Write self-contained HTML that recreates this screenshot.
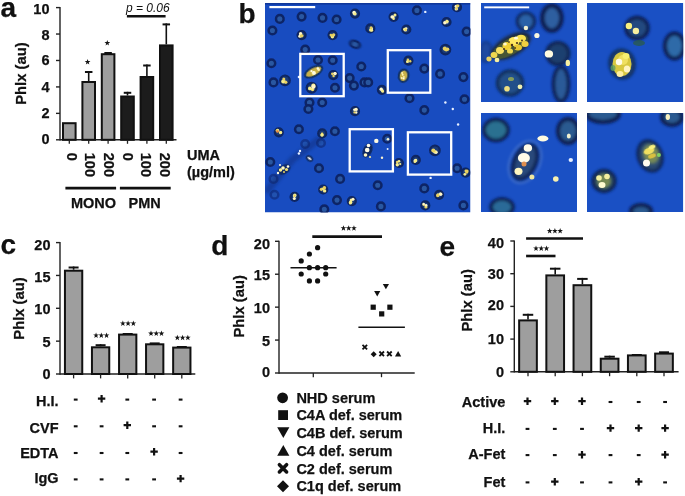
<!DOCTYPE html><html><head><meta charset="utf-8"><style>html,body{margin:0;padding:0;background:#fff;width:685px;height:496px;overflow:hidden}svg{display:block;will-change:transform}text{font-family:"Liberation Sans",sans-serif;fill:#111;stroke:#111;stroke-width:0.25px}</style></head><body>
<svg width="685" height="496" viewBox="0 0 685 496">
<text x="0.50" y="17.30" font-size="28" font-weight="bold" text-anchor="start" >a</text>
<line x1="60.00" y1="7.10" x2="60.00" y2="140.50" stroke="#222" stroke-width="1.4"/>
<line x1="56.00" y1="139.80" x2="60.00" y2="139.80" stroke="#222" stroke-width="1.4"/>
<text x="49.50" y="143.90" font-size="14.5" font-weight="bold" text-anchor="end" >0</text>
<line x1="56.00" y1="113.36" x2="60.00" y2="113.36" stroke="#222" stroke-width="1.4"/>
<text x="49.50" y="117.90" font-size="14.5" font-weight="bold" text-anchor="end" >2</text>
<line x1="56.00" y1="86.92" x2="60.00" y2="86.92" stroke="#222" stroke-width="1.4"/>
<text x="49.50" y="91.80" font-size="14.5" font-weight="bold" text-anchor="end" >4</text>
<line x1="56.00" y1="60.48" x2="60.00" y2="60.48" stroke="#222" stroke-width="1.4"/>
<text x="49.50" y="65.40" font-size="14.5" font-weight="bold" text-anchor="end" >6</text>
<line x1="56.00" y1="34.04" x2="60.00" y2="34.04" stroke="#222" stroke-width="1.4"/>
<text x="49.50" y="40.40" font-size="14.5" font-weight="bold" text-anchor="end" >8</text>
<line x1="56.00" y1="7.60" x2="60.00" y2="7.60" stroke="#222" stroke-width="1.4"/>
<text x="49.50" y="13.85" font-size="14.5" font-weight="bold" text-anchor="end" >10</text>
<text x="0" y="0" font-size="14.8" font-weight="bold" text-anchor="middle" transform="translate(25.60,73.60) rotate(-90)">Phlx (au)</text>
<line x1="60.00" y1="139.80" x2="176.50" y2="139.80" stroke="#222" stroke-width="1.6"/>
<rect x="63.00" y="123.20" width="12.60" height="16.60" fill="#9e9e9e" stroke="#111" stroke-width="2.0"/>
<line x1="69.30" y1="139.80" x2="69.30" y2="143.80" stroke="#222" stroke-width="1.3"/>
<line x1="88.70" y1="81.00" x2="88.70" y2="71.00" stroke="#111" stroke-width="1.6"/>
<line x1="84.95" y1="72.00" x2="92.45" y2="72.00" stroke="#111" stroke-width="2.0"/>
<rect x="82.40" y="82.00" width="12.60" height="57.80" fill="#9e9e9e" stroke="#111" stroke-width="2.0"/>
<line x1="88.70" y1="139.80" x2="88.70" y2="143.80" stroke="#222" stroke-width="1.3"/>
<line x1="108.10" y1="53.20" x2="108.10" y2="52.00" stroke="#111" stroke-width="1.6"/>
<line x1="104.35" y1="53.00" x2="111.85" y2="53.00" stroke="#111" stroke-width="2.0"/>
<rect x="101.80" y="54.20" width="12.60" height="85.60" fill="#9e9e9e" stroke="#111" stroke-width="2.0"/>
<line x1="108.10" y1="139.80" x2="108.10" y2="143.80" stroke="#222" stroke-width="1.3"/>
<line x1="127.50" y1="95.50" x2="127.50" y2="91.80" stroke="#111" stroke-width="1.6"/>
<line x1="123.75" y1="92.80" x2="131.25" y2="92.80" stroke="#111" stroke-width="2.0"/>
<rect x="121.20" y="96.50" width="12.60" height="43.30" fill="#1c1c1c" stroke="#111" stroke-width="2.0"/>
<line x1="127.50" y1="139.80" x2="127.50" y2="143.80" stroke="#222" stroke-width="1.3"/>
<line x1="146.90" y1="76.00" x2="146.90" y2="64.50" stroke="#111" stroke-width="1.6"/>
<line x1="143.15" y1="65.50" x2="150.65" y2="65.50" stroke="#111" stroke-width="2.0"/>
<rect x="140.60" y="77.00" width="12.60" height="62.80" fill="#1c1c1c" stroke="#111" stroke-width="2.0"/>
<line x1="146.90" y1="139.80" x2="146.90" y2="143.80" stroke="#222" stroke-width="1.3"/>
<line x1="166.30" y1="44.40" x2="166.30" y2="23.40" stroke="#111" stroke-width="1.6"/>
<line x1="162.55" y1="24.40" x2="170.05" y2="24.40" stroke="#111" stroke-width="2.0"/>
<rect x="160.00" y="45.40" width="12.60" height="94.40" fill="#1c1c1c" stroke="#111" stroke-width="2.0"/>
<line x1="166.30" y1="139.80" x2="166.30" y2="143.80" stroke="#222" stroke-width="1.3"/>
<polygon points="87.60,59.05 88.31,61.08 90.45,61.12 88.74,62.42 89.36,64.48 87.60,63.25 85.84,64.48 86.46,62.42 84.75,61.12 86.89,61.08" fill="#151515"/>
<polygon points="107.30,40.05 108.01,42.08 110.15,42.12 108.44,43.42 109.06,45.48 107.30,44.25 105.54,45.48 106.16,43.42 104.45,42.12 106.59,42.08" fill="#151515"/>
<line x1="126.90" y1="16.30" x2="165.60" y2="16.30" stroke="#111" stroke-width="2.6"/>
<text x="126.00" y="11.50" font-size="12" font-weight="normal" text-anchor="start" font-style="italic" style="stroke-width:0">p = 0.06</text>
<text x="0" y="0" font-size="14.5" font-weight="bold" transform="translate(67.20,152.8) rotate(90)">0</text>
<text x="0" y="0" font-size="14.5" font-weight="bold" transform="translate(85.35,152.8) rotate(90)">100</text>
<text x="0" y="0" font-size="14.5" font-weight="bold" transform="translate(104.45,152.8) rotate(90)">200</text>
<text x="0" y="0" font-size="14.5" font-weight="bold" transform="translate(122.55,152.8) rotate(90)">0</text>
<text x="0" y="0" font-size="14.5" font-weight="bold" transform="translate(141.10,152.8) rotate(90)">100</text>
<text x="0" y="0" font-size="14.5" font-weight="bold" transform="translate(159.80,152.8) rotate(90)">200</text>
<line x1="65.40" y1="188.10" x2="116.10" y2="188.10" stroke="#111" stroke-width="2.6"/>
<line x1="119.90" y1="188.10" x2="170.70" y2="188.10" stroke="#111" stroke-width="2.6"/>
<text x="93.50" y="208.00" font-size="14.5" font-weight="bold" text-anchor="middle" >MONO</text>
<text x="144.70" y="208.00" font-size="14.5" font-weight="bold" text-anchor="middle" >PMN</text>
<text x="187.00" y="160.10" font-size="14.5" font-weight="bold" text-anchor="start" >UMA</text>
<text x="187.00" y="176.60" font-size="14.5" font-weight="bold" text-anchor="start" >(µg/ml)</text>
<text x="238.50" y="23.40" font-size="28" font-weight="bold" text-anchor="start" >b</text>
<defs>
<filter id="bl1" x="-50%" y="-50%" width="200%" height="200%"><feGaussianBlur stdDeviation="0.7"/></filter>
<filter id="bl2" x="-50%" y="-50%" width="200%" height="200%"><feGaussianBlur stdDeviation="1.4"/></filter>
<filter id="bl3" x="-50%" y="-50%" width="200%" height="200%"><feGaussianBlur stdDeviation="2.4"/></filter>
<filter id="bl05" x="-50%" y="-50%" width="200%" height="200%"><feGaussianBlur stdDeviation="0.45"/></filter>
<clipPath id="cm"><rect x="265" y="3" width="205.5" height="209.5"/></clipPath>
<clipPath id="c1"><rect x="481" y="3" width="96" height="99"/></clipPath>
<clipPath id="c2"><rect x="587" y="3" width="96.3" height="99"/></clipPath>
<clipPath id="c3"><rect x="481" y="113" width="96" height="99"/></clipPath>
<clipPath id="c4"><rect x="587" y="113" width="96.3" height="99"/></clipPath>
</defs>
<g clip-path="url(#cm)">
<rect x="265" y="3" width="205.5" height="209.5" fill="#184cc0"/>
<g transform="translate(279.8,18.9) rotate(0) scale(1.0,1.0)" opacity="0.95" filter="url(#bl1)"><circle cx="0" cy="0" r="3.80" fill="#2a58a0" stroke="#0c2262" stroke-width="2.5"/></g>
<g transform="translate(301.6,16.6) rotate(0) scale(1.0,1.0)" opacity="0.95" filter="url(#bl1)"><circle cx="0" cy="0" r="3.80" fill="#2a58a0" stroke="#0c2262" stroke-width="2.5"/></g>
<g transform="translate(322.5,17.9) rotate(0) scale(1.0,1.0)" opacity="0.95" filter="url(#bl1)"><circle cx="0" cy="0" r="3.80" fill="#2a58a0" stroke="#0c2262" stroke-width="2.5"/></g>
<g transform="translate(336.6,19.5) rotate(0) scale(1.0,1.0)" opacity="0.95" filter="url(#bl1)"><circle cx="0" cy="0" r="3.80" fill="#2a58a0" stroke="#0c2262" stroke-width="2.5"/></g>
<g transform="translate(272.4,30.5) rotate(0) scale(1.0,1.0)" opacity="0.95" filter="url(#bl1)"><circle cx="0" cy="0" r="3.80" fill="#2a58a0" stroke="#0c2262" stroke-width="2.5"/></g>
<g transform="translate(305.2,49.6) rotate(0) scale(1.0,1.0)" opacity="0.95" filter="url(#bl1)"><circle cx="0" cy="0" r="3.80" fill="#2a58a0" stroke="#0c2262" stroke-width="2.5"/></g>
<g transform="translate(271.4,63.3) rotate(0) scale(1.0,1.0)" opacity="0.95" filter="url(#bl1)"><circle cx="0" cy="0" r="3.80" fill="#2a58a0" stroke="#0c2262" stroke-width="2.5"/></g>
<g transform="translate(273.5,82.4) rotate(0) scale(1.0,1.0)" opacity="0.95" filter="url(#bl1)"><circle cx="0" cy="0" r="3.80" fill="#2a58a0" stroke="#0c2262" stroke-width="2.5"/></g>
<g transform="translate(332.7,60.2) rotate(0) scale(1.0,1.0)" opacity="0.95" filter="url(#bl1)"><circle cx="0" cy="0" r="3.80" fill="#2a58a0" stroke="#0c2262" stroke-width="2.5"/></g>
<g transform="translate(361.3,66.5) rotate(0) scale(1.0,1.0)" opacity="0.95" filter="url(#bl1)"><circle cx="0" cy="0" r="3.80" fill="#2a58a0" stroke="#0c2262" stroke-width="2.5"/></g>
<g transform="translate(349.7,78.1) rotate(0) scale(1.0,1.0)" opacity="0.95" filter="url(#bl1)"><circle cx="0" cy="0" r="3.80" fill="#2a58a0" stroke="#0c2262" stroke-width="2.5"/></g>
<g transform="translate(353.9,85.6) rotate(0) scale(1.0,1.0)" opacity="0.95" filter="url(#bl1)"><circle cx="0" cy="0" r="3.80" fill="#2a58a0" stroke="#0c2262" stroke-width="2.5"/></g>
<g transform="translate(364.5,82.4) rotate(0) scale(1.0,1.0)" opacity="0.95" filter="url(#bl1)"><circle cx="0" cy="0" r="3.80" fill="#2a58a0" stroke="#0c2262" stroke-width="2.5"/></g>
<g transform="translate(309.5,102.5) rotate(0) scale(1.0,1.0)" opacity="0.95" filter="url(#bl1)"><circle cx="0" cy="0" r="3.80" fill="#2a58a0" stroke="#0c2262" stroke-width="2.5"/></g>
<g transform="translate(322.2,102.5) rotate(0) scale(1.0,1.0)" opacity="0.95" filter="url(#bl1)"><circle cx="0" cy="0" r="3.80" fill="#2a58a0" stroke="#0c2262" stroke-width="2.5"/></g>
<g transform="translate(318.0,60.0) rotate(0) scale(1.0,1.0)" opacity="0.95" filter="url(#bl1)"><circle cx="0" cy="0" r="3.80" fill="#2a58a0" stroke="#0c2262" stroke-width="2.5"/></g>
<g transform="translate(335.0,87.7) rotate(0) scale(1.0,1.0)" opacity="0.95" filter="url(#bl1)"><circle cx="0" cy="0" r="3.80" fill="#2a58a0" stroke="#0c2262" stroke-width="2.5"/></g>
<g transform="translate(416.9,10.4) rotate(0) scale(1.0,1.0)" opacity="0.95" filter="url(#bl1)"><circle cx="0" cy="0" r="3.80" fill="#2a58a0" stroke="#0c2262" stroke-width="2.5"/></g>
<g transform="translate(466.6,31.6) rotate(0) scale(1.0,1.0)" opacity="0.95" filter="url(#bl1)"><circle cx="0" cy="0" r="3.80" fill="#2a58a0" stroke="#0c2262" stroke-width="2.5"/></g>
<g transform="translate(424.3,68.6) rotate(0) scale(1.0,1.0)" opacity="0.95" filter="url(#bl1)"><circle cx="0" cy="0" r="3.80" fill="#2a58a0" stroke="#0c2262" stroke-width="2.5"/></g>
<g transform="translate(440.1,73.9) rotate(0) scale(1.0,1.0)" opacity="0.95" filter="url(#bl1)"><circle cx="0" cy="0" r="3.80" fill="#2a58a0" stroke="#0c2262" stroke-width="2.5"/></g>
<g transform="translate(463.4,77.1) rotate(0) scale(1.0,1.0)" opacity="0.95" filter="url(#bl1)"><circle cx="0" cy="0" r="3.80" fill="#2a58a0" stroke="#0c2262" stroke-width="2.5"/></g>
<g transform="translate(368.2,82.4) rotate(0) scale(1.0,1.0)" opacity="0.95" filter="url(#bl1)"><circle cx="0" cy="0" r="3.80" fill="#2a58a0" stroke="#0c2262" stroke-width="2.5"/></g>
<g transform="translate(409.5,98.3) rotate(0) scale(1.0,1.0)" opacity="0.95" filter="url(#bl1)"><circle cx="0" cy="0" r="3.80" fill="#2a58a0" stroke="#0c2262" stroke-width="2.5"/></g>
<g transform="translate(464.5,99.3) rotate(0) scale(1.0,1.0)" opacity="0.95" filter="url(#bl1)"><circle cx="0" cy="0" r="3.80" fill="#2a58a0" stroke="#0c2262" stroke-width="2.5"/></g>
<g transform="translate(308.4,109.0) rotate(0) scale(1.0,1.0)" opacity="0.95" filter="url(#bl1)"><circle cx="0" cy="0" r="3.80" fill="#2a58a0" stroke="#0c2262" stroke-width="2.5"/></g>
<g transform="translate(298.9,129.2) rotate(0) scale(1.0,1.0)" opacity="0.95" filter="url(#bl1)"><circle cx="0" cy="0" r="3.80" fill="#2a58a0" stroke="#0c2262" stroke-width="2.5"/></g>
<g transform="translate(334.9,131.3) rotate(0) scale(1.0,1.0)" opacity="0.95" filter="url(#bl1)"><circle cx="0" cy="0" r="3.80" fill="#2a58a0" stroke="#0c2262" stroke-width="2.5"/></g>
<g transform="translate(270.3,162.0) rotate(0) scale(1.0,1.0)" opacity="0.95" filter="url(#bl1)"><circle cx="0" cy="0" r="3.80" fill="#2a58a0" stroke="#0c2262" stroke-width="2.5"/></g>
<g transform="translate(319.0,168.3) rotate(0) scale(1.0,1.0)" opacity="0.95" filter="url(#bl1)"><circle cx="0" cy="0" r="3.80" fill="#2a58a0" stroke="#0c2262" stroke-width="2.5"/></g>
<g transform="translate(340.1,178.9) rotate(0) scale(1.0,1.0)" opacity="0.95" filter="url(#bl1)"><circle cx="0" cy="0" r="3.80" fill="#2a58a0" stroke="#0c2262" stroke-width="2.5"/></g>
<g transform="translate(337.0,200.1) rotate(0) scale(1.0,1.0)" opacity="0.95" filter="url(#bl1)"><circle cx="0" cy="0" r="3.80" fill="#2a58a0" stroke="#0c2262" stroke-width="2.5"/></g>
<g transform="translate(324.3,209.2) rotate(0) scale(1.0,1.0)" opacity="0.95" filter="url(#bl1)"><circle cx="0" cy="0" r="3.80" fill="#2a58a0" stroke="#0c2262" stroke-width="2.5"/></g>
<g transform="translate(424.3,110.1) rotate(0) scale(1.0,1.0)" opacity="0.95" filter="url(#bl1)"><circle cx="0" cy="0" r="3.80" fill="#2a58a0" stroke="#0c2262" stroke-width="2.5"/></g>
<g transform="translate(387.2,138.7) rotate(0) scale(1.0,1.0)" opacity="0.95" filter="url(#bl1)"><circle cx="0" cy="0" r="3.80" fill="#2a58a0" stroke="#0c2262" stroke-width="2.5"/></g>
<g transform="translate(457.1,168.3) rotate(0) scale(1.0,1.0)" opacity="0.95" filter="url(#bl1)"><circle cx="0" cy="0" r="3.80" fill="#2a58a0" stroke="#0c2262" stroke-width="2.5"/></g>
<g transform="translate(377.7,185.3) rotate(0) scale(1.0,1.0)" opacity="0.95" filter="url(#bl1)"><circle cx="0" cy="0" r="3.80" fill="#2a58a0" stroke="#0c2262" stroke-width="2.5"/></g>
<g transform="translate(424.3,188.4) rotate(0) scale(1.0,1.0)" opacity="0.95" filter="url(#bl1)"><circle cx="0" cy="0" r="3.80" fill="#2a58a0" stroke="#0c2262" stroke-width="2.5"/></g>
<g transform="translate(380.9,206.4) rotate(0) scale(1.0,1.0)" opacity="0.95" filter="url(#bl1)"><circle cx="0" cy="0" r="3.80" fill="#2a58a0" stroke="#0c2262" stroke-width="2.5"/></g>
<g transform="translate(463.4,205.4) rotate(0) scale(1.0,1.0)" opacity="0.95" filter="url(#bl1)"><circle cx="0" cy="0" r="3.80" fill="#2a58a0" stroke="#0c2262" stroke-width="2.5"/></g>
<g transform="translate(305.2,144.0) rotate(0) scale(1.0,1.0)" opacity="0.5" filter="url(#bl1)"><circle cx="0" cy="0" r="3.80" fill="#2a58a0" stroke="#0c2262" stroke-width="2.5"/></g>
<g transform="translate(321.0,143.0) rotate(0) scale(1.0,1.0)" opacity="0.5" filter="url(#bl1)"><circle cx="0" cy="0" r="3.80" fill="#2a58a0" stroke="#0c2262" stroke-width="2.5"/></g>
<g transform="translate(273.5,178.9) rotate(0) scale(1.0,1.0)" opacity="0.5" filter="url(#bl1)"><circle cx="0" cy="0" r="3.80" fill="#2a58a0" stroke="#0c2262" stroke-width="2.5"/></g>
<g transform="translate(274.5,194.8) rotate(0) scale(1.0,1.0)" opacity="0.5" filter="url(#bl1)"><circle cx="0" cy="0" r="3.80" fill="#2a58a0" stroke="#0c2262" stroke-width="2.5"/></g>
<g transform="translate(355.0,44.3) rotate(20) scale(1.25,0.9)" opacity="0.95" filter="url(#bl1)"><circle cx="0" cy="0" r="3.80" fill="#2a58a0" stroke="#0c2262" stroke-width="2.5"/></g>
<circle cx="355.0" cy="13.6" r="4.0" fill="#1c3a70" stroke="#0c2058" stroke-width="2.2" opacity="0.9" filter="url(#bl1)"/>
<g filter="url(#bl05)"><circle cx="354.0" cy="13.8" r="1.3" fill="#e8d060"/><circle cx="354.9" cy="13.9" r="1.5" fill="#fff6c8"/><circle cx="354.1" cy="12.6" r="1.8" fill="#fff6c8"/><circle cx="355.2" cy="13.8" r="1.4" fill="#f6ec8a"/></g>
<circle cx="301.6" cy="35.1" r="4.0" fill="#1c3a70" stroke="#0c2058" stroke-width="2.2" opacity="0.9" filter="url(#bl1)"/>
<g filter="url(#bl05)"><circle cx="300.6" cy="33.8" r="1.7" fill="#fff6c8"/><circle cx="302.5" cy="35.7" r="1.1" fill="#e8d060"/><circle cx="299.9" cy="36.2" r="1.6" fill="#fff6c8"/><circle cx="301.5" cy="35.9" r="1.7" fill="#e8d060"/></g>
<circle cx="332.6" cy="35.1" r="4.0" fill="#1c3a70" stroke="#0c2058" stroke-width="2.2" opacity="0.9" filter="url(#bl1)"/>
<g filter="url(#bl05)"><circle cx="333.7" cy="34.8" r="1.6" fill="#e8d060"/><circle cx="332.4" cy="36.7" r="1.7" fill="#f6ec8a"/><circle cx="330.8" cy="35.1" r="1.3" fill="#e8d060"/><circle cx="332.4" cy="35.6" r="1.3" fill="#e8d060"/></g>
<circle cx="370.3" cy="28.4" r="4.0" fill="#1c3a70" stroke="#0c2058" stroke-width="2.2" opacity="0.9" filter="url(#bl1)"/>
<g filter="url(#bl05)"><circle cx="371.6" cy="28.7" r="1.5" fill="#fff6c8"/><circle cx="370.6" cy="29.9" r="1.6" fill="#f6ec8a"/><circle cx="371.6" cy="30.3" r="1.5" fill="#f6ec8a"/><circle cx="371.1" cy="27.7" r="1.5" fill="#e8d060"/></g>
<circle cx="333.3" cy="75.2" r="4.0" fill="#1c3a70" stroke="#0c2058" stroke-width="2.2" opacity="0.9" filter="url(#bl1)"/>
<g filter="url(#bl05)"><circle cx="333.6" cy="76.0" r="1.2" fill="#e8d060"/><circle cx="332.4" cy="73.8" r="1.4" fill="#e8d060"/><circle cx="335.2" cy="73.6" r="1.6" fill="#fff6c8"/><circle cx="334.8" cy="73.4" r="1.4" fill="#fff6c8"/></g>
<circle cx="393.6" cy="16.8" r="4.0" fill="#1c3a70" stroke="#0c2058" stroke-width="2.2" opacity="0.9" filter="url(#bl1)"/>
<g filter="url(#bl05)"><circle cx="395.0" cy="15.1" r="1.5" fill="#f6ec8a"/><circle cx="393.1" cy="17.1" r="1.5" fill="#fff6c8"/><circle cx="393.6" cy="18.7" r="1.3" fill="#f6ec8a"/><circle cx="392.1" cy="16.9" r="1.7" fill="#fff6c8"/></g>
<circle cx="457.0" cy="7.2" r="4.0" fill="#1c3a70" stroke="#0c2058" stroke-width="2.2" opacity="0.9" filter="url(#bl1)"/>
<g filter="url(#bl05)"><circle cx="456.2" cy="6.3" r="1.6" fill="#fff6c8"/><circle cx="456.3" cy="8.9" r="1.7" fill="#fff6c8"/><circle cx="456.5" cy="8.6" r="1.4" fill="#e8d060"/><circle cx="457.7" cy="5.7" r="1.7" fill="#e8d060"/></g>
<circle cx="406.3" cy="29.5" r="4.0" fill="#1c3a70" stroke="#0c2058" stroke-width="2.2" opacity="0.9" filter="url(#bl1)"/>
<g filter="url(#bl05)"><circle cx="405.4" cy="30.0" r="1.6" fill="#fff6c8"/><circle cx="406.1" cy="28.6" r="1.3" fill="#fff6c8"/><circle cx="404.5" cy="29.2" r="1.5" fill="#f6ec8a"/><circle cx="405.8" cy="29.8" r="1.2" fill="#e8d060"/></g>
<circle cx="446.5" cy="22.0" r="4.0" fill="#1c3a70" stroke="#0c2058" stroke-width="2.2" opacity="0.9" filter="url(#bl1)"/>
<g filter="url(#bl05)"><circle cx="447.0" cy="21.9" r="1.5" fill="#fff6c8"/><circle cx="446.9" cy="21.2" r="1.4" fill="#e8d060"/><circle cx="444.8" cy="22.7" r="1.7" fill="#fff6c8"/><circle cx="447.0" cy="21.2" r="1.5" fill="#f6ec8a"/></g>
<circle cx="408.4" cy="60.6" r="4.0" fill="#1c3a70" stroke="#0c2058" stroke-width="2.2" opacity="0.9" filter="url(#bl1)"/>
<g filter="url(#bl05)"><circle cx="407.9" cy="59.9" r="1.3" fill="#e8d060"/><circle cx="407.5" cy="61.7" r="1.2" fill="#f6ec8a"/><circle cx="410.2" cy="61.3" r="1.2" fill="#e8d060"/><circle cx="407.4" cy="61.7" r="1.3" fill="#f6ec8a"/></g>
<circle cx="381.9" cy="89.8" r="4.0" fill="#1c3a70" stroke="#0c2058" stroke-width="2.2" opacity="0.9" filter="url(#bl1)"/>
<g filter="url(#bl05)"><circle cx="382.6" cy="90.4" r="1.2" fill="#e8d060"/><circle cx="381.2" cy="89.2" r="1.7" fill="#fff6c8"/><circle cx="383.1" cy="91.5" r="1.1" fill="#e8d060"/><circle cx="382.5" cy="91.3" r="1.4" fill="#f6ec8a"/></g>
<circle cx="355.0" cy="111.2" r="4.0" fill="#1c3a70" stroke="#0c2058" stroke-width="2.2" opacity="0.9" filter="url(#bl1)"/>
<g filter="url(#bl05)"><circle cx="356.1" cy="109.4" r="1.7" fill="#fff6c8"/><circle cx="356.2" cy="112.5" r="1.2" fill="#fff6c8"/><circle cx="354.4" cy="112.4" r="1.1" fill="#e8d060"/><circle cx="354.4" cy="109.8" r="1.3" fill="#fff6c8"/></g>
<circle cx="322.2" cy="133.4" r="4.0" fill="#1c3a70" stroke="#0c2058" stroke-width="2.2" opacity="0.9" filter="url(#bl1)"/>
<g filter="url(#bl05)"><circle cx="322.1" cy="133.9" r="1.3" fill="#e8d060"/><circle cx="321.9" cy="135.0" r="1.2" fill="#f6ec8a"/><circle cx="322.1" cy="134.7" r="1.5" fill="#e8d060"/><circle cx="322.0" cy="135.1" r="1.7" fill="#f6ec8a"/></g>
<circle cx="323.2" cy="189.5" r="4.0" fill="#1c3a70" stroke="#0c2058" stroke-width="2.2" opacity="0.9" filter="url(#bl1)"/>
<g filter="url(#bl05)"><circle cx="321.4" cy="189.3" r="1.6" fill="#e8d060"/><circle cx="323.3" cy="188.7" r="1.3" fill="#f6ec8a"/><circle cx="324.6" cy="190.9" r="1.7" fill="#f6ec8a"/><circle cx="324.4" cy="187.8" r="1.7" fill="#e8d060"/></g>
<circle cx="294.6" cy="196.9" r="4.0" fill="#1c3a70" stroke="#0c2058" stroke-width="2.2" opacity="0.9" filter="url(#bl1)"/>
<g filter="url(#bl05)"><circle cx="294.6" cy="195.8" r="1.7" fill="#fff6c8"/><circle cx="294.9" cy="195.1" r="1.6" fill="#f6ec8a"/><circle cx="294.6" cy="195.9" r="1.1" fill="#e8d060"/><circle cx="294.3" cy="198.6" r="1.5" fill="#fff6c8"/></g>
<circle cx="351.8" cy="201.1" r="4.0" fill="#1c3a70" stroke="#0c2058" stroke-width="2.2" opacity="0.9" filter="url(#bl1)"/>
<g filter="url(#bl05)"><circle cx="350.4" cy="202.9" r="1.5" fill="#f6ec8a"/><circle cx="351.2" cy="200.0" r="1.5" fill="#f6ec8a"/><circle cx="350.6" cy="202.2" r="1.7" fill="#f6ec8a"/><circle cx="353.0" cy="199.2" r="1.5" fill="#fff6c8"/></g>
<circle cx="398.9" cy="163.0" r="4.0" fill="#1c3a70" stroke="#0c2058" stroke-width="2.2" opacity="0.9" filter="url(#bl1)"/>
<g filter="url(#bl05)"><circle cx="397.2" cy="162.1" r="1.3" fill="#e8d060"/><circle cx="399.0" cy="161.3" r="1.3" fill="#f6ec8a"/><circle cx="400.2" cy="164.0" r="1.1" fill="#f6ec8a"/><circle cx="397.3" cy="164.8" r="1.7" fill="#f6ec8a"/></g>
<circle cx="415.8" cy="159.9" r="4.0" fill="#1c3a70" stroke="#0c2058" stroke-width="2.2" opacity="0.9" filter="url(#bl1)"/>
<g filter="url(#bl05)"><circle cx="415.9" cy="159.9" r="1.2" fill="#f6ec8a"/><circle cx="415.2" cy="160.5" r="1.5" fill="#fff6c8"/><circle cx="414.9" cy="161.7" r="1.4" fill="#f6ec8a"/><circle cx="416.0" cy="160.7" r="1.3" fill="#f6ec8a"/></g>
<circle cx="465.6" cy="172.6" r="4.0" fill="#1c3a70" stroke="#0c2058" stroke-width="2.2" opacity="0.9" filter="url(#bl1)"/>
<g filter="url(#bl05)"><circle cx="465.9" cy="170.9" r="1.4" fill="#e8d060"/><circle cx="466.7" cy="172.1" r="1.6" fill="#e8d060"/><circle cx="467.1" cy="170.9" r="1.5" fill="#e8d060"/><circle cx="464.9" cy="174.3" r="1.4" fill="#f6ec8a"/></g>
<circle cx="439.1" cy="194.8" r="4.0" fill="#1c3a70" stroke="#0c2058" stroke-width="2.2" opacity="0.9" filter="url(#bl1)"/>
<g filter="url(#bl05)"><circle cx="438.1" cy="194.9" r="1.6" fill="#f6ec8a"/><circle cx="440.2" cy="193.8" r="1.2" fill="#f6ec8a"/><circle cx="440.7" cy="194.3" r="1.7" fill="#fff6c8"/><circle cx="437.7" cy="195.5" r="1.7" fill="#e8d060"/></g>
<circle cx="425.3" cy="205.4" r="4.0" fill="#1c3a70" stroke="#0c2058" stroke-width="2.2" opacity="0.9" filter="url(#bl1)"/>
<g filter="url(#bl05)"><circle cx="425.9" cy="206.9" r="1.6" fill="#e8d060"/><circle cx="423.8" cy="204.7" r="1.4" fill="#e8d060"/><circle cx="426.1" cy="205.3" r="1.3" fill="#fff6c8"/><circle cx="423.6" cy="203.9" r="1.2" fill="#fff6c8"/></g>
<circle cx="278.8" cy="132.3" r="4.0" fill="#1c3a70" stroke="#0c2058" stroke-width="2.2" opacity="0.9" filter="url(#bl1)"/>
<g filter="url(#bl05)"><circle cx="277.6" cy="130.5" r="1.7" fill="#f6ec8a"/><circle cx="277.0" cy="130.8" r="1.4" fill="#e8d060"/><circle cx="280.5" cy="132.6" r="1.6" fill="#f6ec8a"/><circle cx="280.7" cy="132.5" r="1.4" fill="#f6ec8a"/><circle cx="277.5" cy="131.5" r="1.3" fill="#e08040"/></g>
<circle cx="285.0" cy="80.3" r="4.8" fill="#1c3a70" stroke="#0c2058" stroke-width="2.2" opacity="0.9" filter="url(#bl1)"/>
<g filter="url(#bl05)"><circle cx="283.2" cy="81.4" r="2.0" fill="#f6ec8a"/><circle cx="285.2" cy="82.0" r="1.4" fill="#f6ec8a"/><circle cx="283.8" cy="78.9" r="1.5" fill="#e8d060"/><circle cx="285.9" cy="82.3" r="1.5" fill="#e8d060"/></g>
<circle cx="445.4" cy="49.6" r="4.8" fill="#1c3a70" stroke="#0c2058" stroke-width="2.2" opacity="0.9" filter="url(#bl1)"/>
<g filter="url(#bl05)"><circle cx="444.9" cy="48.9" r="1.6" fill="#f6ec8a"/><circle cx="444.8" cy="48.4" r="2.0" fill="#e8d060"/><circle cx="447.5" cy="49.2" r="1.8" fill="#e8d060"/><circle cx="446.2" cy="49.7" r="1.7" fill="#e8d060"/></g>
<circle cx="434.9" cy="150.3" r="4.8" fill="#1c3a70" stroke="#0c2058" stroke-width="2.2" opacity="0.9" filter="url(#bl1)"/>
<g filter="url(#bl05)"><circle cx="434.5" cy="152.0" r="1.4" fill="#fff6c8"/><circle cx="436.0" cy="152.2" r="1.7" fill="#fff6c8"/><circle cx="435.3" cy="151.9" r="1.4" fill="#f6ec8a"/><circle cx="433.3" cy="150.4" r="2.0" fill="#e8d060"/></g>
<ellipse cx="313.6" cy="71.7" rx="10.5" ry="5.5" fill="#102a50" opacity="0.8" transform="rotate(-28,313.6,71.7)" filter="url(#bl1)"/>
<ellipse cx="313.6" cy="71.7" rx="8.5" ry="3.5" fill="#c8b048" transform="rotate(-28,313.6,71.7)" filter="url(#bl05)"/>
<g filter="url(#bl05)"><circle cx="314.6" cy="72.5" r="1.4" fill="#f0e070"/><circle cx="313.3" cy="73.6" r="1.6" fill="#f0e070"/><circle cx="317.9" cy="68.5" r="1.2" fill="#fffbe0"/><circle cx="311.5" cy="71.2" r="1.1" fill="#fffbe0"/><circle cx="314.1" cy="73.2" r="1.6" fill="#fffbe0"/><circle cx="313.6" cy="72.2" r="1.3" fill="#fffbe0"/><circle cx="318.7" cy="69.7" r="1.2" fill="#fff4b0"/></g>
<circle cx="311.6" cy="87.8" r="4.9" fill="#1c3a70" stroke="#0c2058" stroke-width="2.2" opacity="0.9" filter="url(#bl1)"/>
<g filter="url(#bl05)"><circle cx="312.6" cy="89.5" r="1.7" fill="#e8d060"/><circle cx="313.4" cy="85.7" r="2.1" fill="#f6ec8a"/><circle cx="312.3" cy="89.1" r="1.4" fill="#f6ec8a"/><circle cx="313.3" cy="86.6" r="1.5" fill="#fff6c8"/><circle cx="309.9" cy="88.4" r="1.9" fill="#f6ec8a"/><circle cx="313.5" cy="86.7" r="2.1" fill="#fff6c8"/></g>
<ellipse cx="403.6" cy="75.7" rx="5.8" ry="7.2" fill="#102a50" opacity="0.8" transform="rotate(10,403.6,75.7)" filter="url(#bl1)"/>
<ellipse cx="403.6" cy="75.7" rx="3.8" ry="5.2" fill="#c8b048" transform="rotate(10,403.6,75.7)" filter="url(#bl05)"/>
<g filter="url(#bl05)"><circle cx="402.1" cy="72.9" r="1.0" fill="#fff4b0"/><circle cx="401.7" cy="78.0" r="1.1" fill="#fff4b0"/><circle cx="403.9" cy="76.9" r="0.9" fill="#fff4b0"/><circle cx="402.7" cy="74.8" r="1.0" fill="#fff4b0"/><circle cx="403.6" cy="78.6" r="1.0" fill="#fffbe0"/></g>
<g opacity="0.35" filter="url(#bl2)"><path d="M268,190 L292,160 L318,140" stroke="#0c2262" stroke-width="7" fill="none" stroke-linecap="round"/></g>
<ellipse cx="284" cy="169.5" rx="7" ry="4.5" fill="#0e2450" opacity="0.7" transform="rotate(-30,284,169.5)" filter="url(#bl1)"/>
<circle cx="280.5" cy="170" r="1.7" fill="#f8f090" filter="url(#bl05)"/>
<circle cx="283" cy="168" r="1.8" fill="#fff8c0" filter="url(#bl05)"/>
<circle cx="286.5" cy="169.5" r="1.6" fill="#f0e070" filter="url(#bl05)"/>
<circle cx="288" cy="166.5" r="1.3" fill="#fffbe0" filter="url(#bl05)"/>
<circle cx="278" cy="173" r="1.2" fill="#fffbe0" filter="url(#bl05)"/>
<circle cx="284" cy="172" r="1.0" fill="#e8d060" filter="url(#bl05)"/>
<circle cx="280" cy="165" r="1.0" fill="#fffbe0" filter="url(#bl05)"/>
<ellipse cx="309.5" cy="158.5" rx="4" ry="3" fill="#0e2450" opacity="0.8" transform="rotate(35,309.5,158.5)" filter="url(#bl1)"/>
<ellipse cx="309.5" cy="158.5" rx="2.5" ry="1.1" fill="#fffbf0" transform="rotate(35,309.5,158.5)" filter="url(#bl05)"/>
<ellipse cx="367.5" cy="150.5" rx="4.5" ry="7.5" fill="#0e2450" opacity="0.85" transform="rotate(25,367.5,150.5)" filter="url(#bl1)"/>
<circle cx="368.5" cy="145.5" r="1.8" fill="#fffbe8" filter="url(#bl05)"/>
<circle cx="367.2" cy="150" r="2.3" fill="#fffbe8" filter="url(#bl05)"/>
<circle cx="365.5" cy="155" r="1.8" fill="#fff6c0" filter="url(#bl05)"/>
<circle cx="370" cy="157" r="1.1" fill="#f0e8a0" filter="url(#bl05)"/>
<circle cx="376.3" cy="140.9" r="2.2" fill="#fffbe0" filter="url(#bl05)"/>
<circle cx="382" cy="157.7" r="1.2" fill="#f8f0d0" filter="url(#bl05)"/>
<circle cx="387.6" cy="148.9" r="1.0" fill="#e8f0ff" filter="url(#bl05)"/>
<circle cx="388" cy="139.3" r="1.3" fill="#f0f0d0" filter="url(#bl05)"/>
<circle cx="298.9" cy="77.0" r="1.2" fill="#e8f0ff" filter="url(#bl05)"/>
<circle cx="425.3" cy="11.9" r="1.2" fill="#e8f0ff" filter="url(#bl05)"/>
<circle cx="445.4" cy="102.5" r="1.2" fill="#e8f0ff" filter="url(#bl05)"/>
<circle cx="298.9" cy="153.5" r="1.2" fill="#e8f0ff" filter="url(#bl05)"/>
<circle cx="300.0" cy="151.0" r="1.2" fill="#e8f0ff" filter="url(#bl05)"/>
<circle cx="452.8" cy="109.0" r="1.2" fill="#e8f0ff" filter="url(#bl05)"/>
<circle cx="458.1" cy="124.5" r="1.2" fill="#e8f0ff" filter="url(#bl05)"/>
<circle cx="430.6" cy="177.9" r="1.2" fill="#e8f0ff" filter="url(#bl05)"/>
<rect x="265" y="3" width="205.5" height="1.6" fill="#0e2c80" opacity="0.6"/>
<rect x="269.4" y="6.0" width="45.8" height="2.2" fill="#fff"/>
<rect x="300.3" y="53.9" width="43.4" height="42.3" fill="none" stroke="#fff" stroke-width="2.3"/>
<rect x="387.8" y="50.2" width="42.5" height="42.5" fill="none" stroke="#fff" stroke-width="2.3"/>
<rect x="349.7" y="129.2" width="43.2" height="42.2" fill="none" stroke="#fff" stroke-width="2.3"/>
<rect x="407.9" y="132.3" width="43.3" height="42.3" fill="none" stroke="#fff" stroke-width="2.3"/>
</g>
<g clip-path="url(#c1)">
<rect x="481" y="3" width="96" height="99" fill="#1a50c4"/>
<g transform="translate(525.9,21.5) rotate(0)" opacity="1.0" filter="url(#bl2)"><ellipse cx="0" cy="0" rx="8.5" ry="8.5" fill="#2a62a8" stroke="#0c2258" stroke-width="3.2"/></g>
<g transform="translate(551.9,18.0) rotate(0)" opacity="1.0" filter="url(#bl2)"><ellipse cx="0" cy="0" rx="9.5" ry="12.5" fill="#2d5fa0" stroke="#0a1c50" stroke-width="4.5"/></g>
<g transform="translate(557.8,53.5) rotate(0)" opacity="1.0" filter="url(#bl2)"><ellipse cx="0" cy="0" rx="11" ry="11" fill="#1e4070" stroke="#0c2050" stroke-width="3.2"/></g>
<g transform="translate(561.0,84.0) rotate(0)" opacity="1.0" filter="url(#bl2)"><ellipse cx="0" cy="0" rx="7.5" ry="17" fill="#2a5a98" stroke="#0a1c50" stroke-width="3.5"/></g>
<g transform="translate(510.0,83.0) rotate(0)" opacity="1.0" filter="url(#bl2)"><ellipse cx="0" cy="0" rx="12.5" ry="12" fill="#22508a" stroke="#102850" stroke-width="3"/></g>
<g transform="translate(486.0,52.0) rotate(0)" opacity="0.6" filter="url(#bl2)"><ellipse cx="0" cy="0" rx="6" ry="10" fill="#20448a" stroke="#10285a" stroke-width="2"/></g>
<ellipse cx="511" cy="46" rx="22" ry="10.5" fill="#1e2428" transform="rotate(-29,511,46)" opacity="0.85" filter="url(#bl2)"/>
<ellipse cx="510" cy="47" rx="20" ry="8" fill="#5a6a30" transform="rotate(-29,510,47)" opacity="0.7" filter="url(#bl1)"/>
<ellipse cx="521.0" cy="38.5" rx="5" ry="3.8" fill="#f8e050" transform="rotate(0,521.0,38.5)" opacity="1.0" filter="url(#bl05)"/>
<ellipse cx="514.0" cy="41.5" rx="5.5" ry="4.5" fill="#ffe860" transform="rotate(0,514.0,41.5)" opacity="1.0" filter="url(#bl05)"/>
<ellipse cx="507.0" cy="46.0" rx="4.6" ry="4" fill="#f0d030" transform="rotate(0,507.0,46.0)" opacity="1.0" filter="url(#bl05)"/>
<ellipse cx="500.0" cy="50.5" rx="4" ry="3.4" fill="#f8e060" transform="rotate(0,500.0,50.5)" opacity="1.0" filter="url(#bl05)"/>
<ellipse cx="494.0" cy="55.0" rx="3.4" ry="3" fill="#f0d850" transform="rotate(0,494.0,55.0)" opacity="1.0" filter="url(#bl05)"/>
<ellipse cx="489.0" cy="59.0" rx="2.6" ry="2.4" fill="#e8d060" transform="rotate(0,489.0,59.0)" opacity="1.0" filter="url(#bl05)"/>
<ellipse cx="525.0" cy="44.0" rx="3.6" ry="3" fill="#f0d040" transform="rotate(0,525.0,44.0)" opacity="1.0" filter="url(#bl05)"/>
<ellipse cx="518.0" cy="47.5" rx="4" ry="3" fill="#e8c830" transform="rotate(0,518.0,47.5)" opacity="1.0" filter="url(#bl05)"/>
<ellipse cx="510.0" cy="51.0" rx="3" ry="2.6" fill="#f0d850" transform="rotate(0,510.0,51.0)" opacity="1.0" filter="url(#bl05)"/>
<ellipse cx="497.0" cy="60.0" rx="2.4" ry="2.2" fill="#f8f0a0" transform="rotate(0,497.0,60.0)" opacity="1.0" filter="url(#bl05)"/>
<ellipse cx="512.0" cy="45.0" rx="1.2" ry="1.2" fill="#4a3018" transform="rotate(0,512.0,45.0)" opacity="1.0" filter="url(#bl05)"/>
<ellipse cx="517.0" cy="43.0" rx="1.1" ry="1.1" fill="#4a3018" transform="rotate(0,517.0,43.0)" opacity="1.0" filter="url(#bl05)"/>
<ellipse cx="522.0" cy="40.5" rx="1.0" ry="1.0" fill="#5a4020" transform="rotate(0,522.0,40.5)" opacity="1.0" filter="url(#bl05)"/>
<ellipse cx="504.0" cy="49.0" rx="1.0" ry="1.0" fill="#4a3018" transform="rotate(0,504.0,49.0)" opacity="1.0" filter="url(#bl05)"/>
<ellipse cx="515.0" cy="48.0" rx="1.0" ry="1.0" fill="#503818" transform="rotate(0,515.0,48.0)" opacity="1.0" filter="url(#bl05)"/>
<ellipse cx="509.0" cy="42.0" rx="0.9" ry="0.9" fill="#604820" transform="rotate(0,509.0,42.0)" opacity="1.0" filter="url(#bl05)"/>
<ellipse cx="516.0" cy="38.0" rx="2" ry="1.6" fill="#fffbe0" transform="rotate(0,516.0,38.0)" opacity="1.0" filter="url(#bl1)"/>
<ellipse cx="505.0" cy="44.0" rx="1.8" ry="1.5" fill="#fff8d0" transform="rotate(0,505.0,44.0)" opacity="1.0" filter="url(#bl1)"/>
<ellipse cx="548.9" cy="53.9" rx="4.2" ry="3.6" fill="#fffbe0" transform="rotate(0,548.9,53.9)" opacity="1.0" filter="url(#bl1)"/>
<ellipse cx="567.8" cy="62.9" rx="2.2" ry="3.2" fill="#f8f0a0" transform="rotate(0,567.8,62.9)" opacity="1.0" filter="url(#bl1)"/>
<ellipse cx="525.9" cy="28.0" rx="2.2" ry="2.2" fill="#f0f0d0" transform="rotate(0,525.9,28.0)" opacity="1.0" filter="url(#bl1)"/>
<ellipse cx="536.9" cy="35.5" rx="2.6" ry="2.6" fill="#f8f8e0" transform="rotate(0,536.9,35.5)" opacity="1.0" filter="url(#bl1)"/>
<ellipse cx="507.0" cy="88.8" rx="2.8" ry="2.8" fill="#f0e080" transform="rotate(0,507.0,88.8)" opacity="1.0" filter="url(#bl1)"/>
<ellipse cx="520.0" cy="86.8" rx="2.4" ry="2.4" fill="#f0f0b0" transform="rotate(0,520.0,86.8)" opacity="1.0" filter="url(#bl1)"/>
<ellipse cx="511.0" cy="79.0" rx="3" ry="2" fill="#a0b050" transform="rotate(0,511.0,79.0)" opacity="0.8" filter="url(#bl1)"/>
<rect x="484.2" y="6.4" width="45" height="1.9" fill="#fff"/>
</g>
<g clip-path="url(#c2)">
<rect x="587" y="3" width="96.3" height="99" fill="#1a50c4"/>
<g transform="translate(637.0,28.0) rotate(0)" opacity="1.0" filter="url(#bl2)"><ellipse cx="0" cy="0" rx="11" ry="10.5" fill="#244a80" stroke="#0a1c50" stroke-width="3.5"/></g>
<g transform="translate(674.5,46.0) rotate(0)" opacity="1.0" filter="url(#bl2)"><ellipse cx="0" cy="0" rx="9.5" ry="12.5" fill="#2d6aa8" stroke="#0a1c50" stroke-width="4"/></g>
<g transform="translate(622.0,64.0) rotate(-10)" opacity="0.9" filter="url(#bl2)"><ellipse cx="0" cy="0" rx="12" ry="14" fill="#2a4a70" stroke="#102850" stroke-width="3"/></g>
<ellipse cx="639.0" cy="43.0" rx="6" ry="3" fill="#2a5a50" transform="rotate(0,639.0,43.0)" opacity="0.8" filter="url(#bl1)"/>
<ellipse cx="628.9" cy="26.0" rx="3.2" ry="3.2" fill="#f8f080" transform="rotate(0,628.9,26.0)" opacity="1.0" filter="url(#bl1)"/>
<ellipse cx="635.9" cy="31.0" rx="3.2" ry="3.2" fill="#f8f0a0" transform="rotate(0,635.9,31.0)" opacity="1.0" filter="url(#bl1)"/>
<ellipse cx="622.0" cy="64.0" rx="9.5" ry="12" fill="#d8c840" transform="rotate(0,622.0,64.0)" opacity="1.0" filter="url(#bl1)"/>
<ellipse cx="623.0" cy="60.0" rx="5" ry="5" fill="#f0e060" transform="rotate(0,623.0,60.0)" opacity="1.0" filter="url(#bl1)"/>
<ellipse cx="626.0" cy="56.0" rx="3.5" ry="3" fill="#f8f070" transform="rotate(0,626.0,56.0)" opacity="1.0" filter="url(#bl1)"/>
<ellipse cx="619.0" cy="62.0" rx="3.2" ry="3.2" fill="#fffbe8" transform="rotate(0,619.0,62.0)" opacity="1.0" filter="url(#bl1)"/>
<ellipse cx="627.0" cy="69.0" rx="3.2" ry="3.5" fill="#fff4c0" transform="rotate(0,627.0,69.0)" opacity="1.0" filter="url(#bl1)"/>
<ellipse cx="620.0" cy="74.0" rx="3.4" ry="3" fill="#fff0a0" transform="rotate(0,620.0,74.0)" opacity="1.0" filter="url(#bl1)"/>
<ellipse cx="613.0" cy="68.0" rx="2.5" ry="3" fill="#60a060" transform="rotate(0,613.0,68.0)" opacity="0.8" filter="url(#bl1)"/>
</g>
<g clip-path="url(#c3)">
<rect x="481" y="113" width="96" height="99" fill="#1a50c4"/>
<g transform="translate(496.0,130.0) rotate(0)" opacity="1.0" filter="url(#bl2)"><ellipse cx="0" cy="0" rx="12" ry="10.5" fill="#2a7090" stroke="#0a1c50" stroke-width="3.5"/></g>
<g transform="translate(568.0,131.0) rotate(0)" opacity="1.0" filter="url(#bl2)"><ellipse cx="0" cy="0" rx="10" ry="12" fill="#2a5a90" stroke="#0a1c50" stroke-width="4"/></g>
<g transform="translate(502.0,207.0) rotate(0)" opacity="1.0" filter="url(#bl2)"><ellipse cx="0" cy="0" rx="11" ry="8" fill="#2a6a98" stroke="#0a1c50" stroke-width="3.5"/></g>
<ellipse cx="525" cy="162" rx="14.5" ry="22" fill="none" stroke="#6a90d0" stroke-width="2" opacity="0.6" transform="rotate(25,525,162)" filter="url(#bl2)"/>
<g transform="translate(525.0,162.0) rotate(25)" opacity="0.95" filter="url(#bl2)"><ellipse cx="0" cy="0" rx="10.5" ry="18" fill="#2a4a78" stroke="#0a1c48" stroke-width="3.5"/></g>
<ellipse cx="527.9" cy="148.0" rx="4.2" ry="3.8" fill="#fffbe8" transform="rotate(0,527.9,148.0)" opacity="1.0" filter="url(#bl1)"/>
<ellipse cx="523.9" cy="158.0" rx="6" ry="5" fill="#fffbe8" transform="rotate(0,523.9,158.0)" opacity="1.0" filter="url(#bl1)"/>
<ellipse cx="524.0" cy="164.0" rx="2.5" ry="2.5" fill="#e09050" transform="rotate(0,524.0,164.0)" opacity="1.0" filter="url(#bl1)"/>
<ellipse cx="518.5" cy="171.3" rx="4" ry="3.6" fill="#fff6c0" transform="rotate(0,518.5,171.3)" opacity="1.0" filter="url(#bl1)"/>
<ellipse cx="531.9" cy="177.0" rx="2.5" ry="2.5" fill="#f0e8a0" transform="rotate(0,531.9,177.0)" opacity="1.0" filter="url(#bl1)"/>
<ellipse cx="542.9" cy="138.5" rx="5.5" ry="3" fill="#fffbe0" transform="rotate(0,542.9,138.5)" opacity="1.0" filter="url(#bl1)"/>
<ellipse cx="568.8" cy="136.0" rx="2" ry="2.5" fill="#f0f0d0" transform="rotate(0,568.8,136.0)" opacity="1.0" filter="url(#bl1)"/>
<ellipse cx="570.8" cy="160.0" rx="2.2" ry="2" fill="#e8f0ff" transform="rotate(0,570.8,160.0)" opacity="1.0" filter="url(#bl1)"/>
<ellipse cx="555.8" cy="179.0" rx="2.8" ry="2.8" fill="#f8f0b0" transform="rotate(0,555.8,179.0)" opacity="1.0" filter="url(#bl1)"/>
</g>
<g clip-path="url(#c4)">
<rect x="587" y="113" width="96.3" height="99" fill="#1a50c4"/>
<g transform="translate(603.0,114.0) rotate(0)" opacity="1.0" filter="url(#bl2)"><ellipse cx="0" cy="0" rx="16" ry="8" fill="#2a5a90" stroke="#0a1c50" stroke-width="4"/></g>
<g transform="translate(672.0,117.0) rotate(0)" opacity="1.0" filter="url(#bl2)"><ellipse cx="0" cy="0" rx="10" ry="8" fill="#2a5a90" stroke="#0a1c50" stroke-width="4"/></g>
<g transform="translate(650.0,156.0) rotate(-20)" opacity="0.95" filter="url(#bl2)"><ellipse cx="0" cy="0" rx="11.5" ry="15.5" fill="#2a4a70" stroke="#0a1c48" stroke-width="3"/></g>
<g transform="translate(604.0,181.0) rotate(0)" opacity="0.95" filter="url(#bl2)"><ellipse cx="0" cy="0" rx="11" ry="10.5" fill="#2a4a60" stroke="#0a1c48" stroke-width="3"/></g>
<g transform="translate(641.0,211.0) rotate(0)" opacity="1.0" filter="url(#bl2)"><ellipse cx="0" cy="0" rx="10" ry="6" fill="#2a5a90" stroke="#0a1c50" stroke-width="4"/></g>
<ellipse cx="667.8" cy="117.0" rx="2.2" ry="3" fill="#f8f0c0" transform="rotate(0,667.8,117.0)" opacity="1.0" filter="url(#bl1)"/>
<ellipse cx="651.0" cy="154.0" rx="8" ry="10" fill="#8a9a50" transform="rotate(-20,651.0,154.0)" opacity="0.8" filter="url(#bl2)"/>
<ellipse cx="604.0" cy="181.0" rx="7" ry="7" fill="#8a9a50" transform="rotate(0,604.0,181.0)" opacity="0.8" filter="url(#bl2)"/>
<ellipse cx="649.0" cy="151.0" rx="5.5" ry="3.2" fill="#f0e060" transform="rotate(-20,649.0,151.0)" opacity="1.0" filter="url(#bl1)"/>
<ellipse cx="652.0" cy="147.0" rx="3.5" ry="2" fill="#f8f080" transform="rotate(-20,652.0,147.0)" opacity="1.0" filter="url(#bl1)"/>
<ellipse cx="652.0" cy="156.0" rx="4" ry="2.2" fill="#d8c040" transform="rotate(-20,652.0,156.0)" opacity="1.0" filter="url(#bl1)"/>
<ellipse cx="646.5" cy="163.0" rx="3.5" ry="3.5" fill="#fffbf0" transform="rotate(0,646.5,163.0)" opacity="1.0" filter="url(#bl1)"/>
<ellipse cx="658.9" cy="155.0" rx="2" ry="2" fill="#80d060" transform="rotate(0,658.9,155.0)" opacity="1.0" filter="url(#bl1)"/>
<ellipse cx="599.0" cy="178.0" rx="2.8" ry="2.8" fill="#f4f0a0" transform="rotate(0,599.0,178.0)" opacity="1.0" filter="url(#bl1)"/>
<ellipse cx="607.0" cy="176.5" rx="2.8" ry="2.8" fill="#f4f0a0" transform="rotate(0,607.0,176.5)" opacity="1.0" filter="url(#bl1)"/>
<ellipse cx="602.0" cy="185.0" rx="3.5" ry="3" fill="#fffbd0" transform="rotate(0,602.0,185.0)" opacity="1.0" filter="url(#bl1)"/>
</g>
<text x="0.50" y="254.00" font-size="28" font-weight="bold" text-anchor="start" >c</text>
<line x1="60.00" y1="242.10" x2="60.00" y2="374.70" stroke="#222" stroke-width="1.4"/>
<line x1="56.00" y1="374.00" x2="60.00" y2="374.00" stroke="#222" stroke-width="1.4"/>
<text x="50.50" y="379.20" font-size="14.5" font-weight="bold" text-anchor="end" >0</text>
<line x1="56.00" y1="341.15" x2="60.00" y2="341.15" stroke="#222" stroke-width="1.4"/>
<text x="50.50" y="347.30" font-size="14.5" font-weight="bold" text-anchor="end" >5</text>
<line x1="56.00" y1="308.30" x2="60.00" y2="308.30" stroke="#222" stroke-width="1.4"/>
<text x="50.50" y="314.30" font-size="14.5" font-weight="bold" text-anchor="end" >10</text>
<line x1="56.00" y1="275.45" x2="60.00" y2="275.45" stroke="#222" stroke-width="1.4"/>
<text x="50.50" y="281.80" font-size="14.5" font-weight="bold" text-anchor="end" >15</text>
<line x1="56.00" y1="242.60" x2="60.00" y2="242.60" stroke="#222" stroke-width="1.4"/>
<text x="50.50" y="250.30" font-size="14.5" font-weight="bold" text-anchor="end" >20</text>
<text x="0" y="0" font-size="14.8" font-weight="bold" text-anchor="middle" transform="translate(23.50,308.50) rotate(-90)">Phlx (au)</text>
<line x1="60.00" y1="374.00" x2="195.30" y2="374.00" stroke="#222" stroke-width="1.6"/>
<line x1="73.60" y1="269.70" x2="73.60" y2="266.50" stroke="#111" stroke-width="1.6"/>
<line x1="68.60" y1="267.50" x2="78.60" y2="267.50" stroke="#111" stroke-width="2.0"/>
<rect x="64.95" y="270.70" width="17.30" height="103.30" fill="#9e9e9e" stroke="#111" stroke-width="2.0"/>
<line x1="73.60" y1="374.00" x2="73.60" y2="378.40" stroke="#222" stroke-width="1.3"/>
<line x1="100.60" y1="346.30" x2="100.60" y2="344.20" stroke="#111" stroke-width="1.6"/>
<line x1="95.60" y1="345.20" x2="105.60" y2="345.20" stroke="#111" stroke-width="2.0"/>
<rect x="91.95" y="347.30" width="17.30" height="26.70" fill="#9e9e9e" stroke="#111" stroke-width="2.0"/>
<line x1="100.60" y1="374.00" x2="100.60" y2="378.40" stroke="#222" stroke-width="1.3"/>
<line x1="122.70" y1="334.00" x2="132.70" y2="334.00" stroke="#111" stroke-width="2.0"/>
<rect x="119.05" y="334.60" width="17.30" height="39.40" fill="#9e9e9e" stroke="#111" stroke-width="2.0"/>
<line x1="127.70" y1="374.00" x2="127.70" y2="378.40" stroke="#222" stroke-width="1.3"/>
<line x1="149.70" y1="343.40" x2="159.70" y2="343.40" stroke="#111" stroke-width="2.0"/>
<rect x="146.05" y="344.30" width="17.30" height="29.70" fill="#9e9e9e" stroke="#111" stroke-width="2.0"/>
<line x1="154.70" y1="374.00" x2="154.70" y2="378.40" stroke="#222" stroke-width="1.3"/>
<line x1="176.80" y1="347.00" x2="186.80" y2="347.00" stroke="#111" stroke-width="2.0"/>
<rect x="173.15" y="347.60" width="17.30" height="26.40" fill="#9e9e9e" stroke="#111" stroke-width="2.0"/>
<line x1="181.80" y1="374.00" x2="181.80" y2="378.40" stroke="#222" stroke-width="1.3"/>
<polygon points="96.05,332.45 96.76,334.48 98.90,334.52 97.19,335.82 97.81,337.88 96.05,336.65 94.29,337.88 94.91,335.82 93.20,334.52 95.34,334.48" fill="#151515"/>
<polygon points="101.30,332.45 102.01,334.48 104.15,334.52 102.44,335.82 103.06,337.88 101.30,336.65 99.54,337.88 100.16,335.82 98.45,334.52 100.59,334.48" fill="#151515"/>
<polygon points="106.55,332.45 107.26,334.48 109.40,334.52 107.69,335.82 108.31,337.88 106.55,336.65 104.79,337.88 105.41,335.82 103.70,334.52 105.84,334.48" fill="#151515"/>
<polygon points="122.85,320.45 123.56,322.48 125.70,322.52 123.99,323.82 124.61,325.88 122.85,324.65 121.09,325.88 121.71,323.82 120.00,322.52 122.14,322.48" fill="#151515"/>
<polygon points="128.10,320.45 128.81,322.48 130.95,322.52 129.24,323.82 129.86,325.88 128.10,324.65 126.34,325.88 126.96,323.82 125.25,322.52 127.39,322.48" fill="#151515"/>
<polygon points="133.35,320.45 134.06,322.48 136.20,322.52 134.49,323.82 135.11,325.88 133.35,324.65 131.59,325.88 132.21,323.82 130.50,322.52 132.64,322.48" fill="#151515"/>
<polygon points="151.00,330.55 151.71,332.58 153.85,332.62 152.14,333.92 152.76,335.98 151.00,334.75 149.24,335.98 149.86,333.92 148.15,332.62 150.29,332.58" fill="#151515"/>
<polygon points="156.25,330.55 156.96,332.58 159.10,332.62 157.39,333.92 158.01,335.98 156.25,334.75 154.49,335.98 155.11,333.92 153.40,332.62 155.54,332.58" fill="#151515"/>
<polygon points="161.50,330.55 162.21,332.58 164.35,332.62 162.64,333.92 163.26,335.98 161.50,334.75 159.74,335.98 160.36,333.92 158.65,332.62 160.79,332.58" fill="#151515"/>
<polygon points="177.35,334.75 178.06,336.78 180.20,336.82 178.49,338.12 179.11,340.18 177.35,338.95 175.59,340.18 176.21,338.12 174.50,336.82 176.64,336.78" fill="#151515"/>
<polygon points="182.60,334.75 183.31,336.78 185.45,336.82 183.74,338.12 184.36,340.18 182.60,338.95 180.84,340.18 181.46,338.12 179.75,336.82 181.89,336.78" fill="#151515"/>
<polygon points="187.85,334.75 188.56,336.78 190.70,336.82 188.99,338.12 189.61,340.18 187.85,338.95 186.09,340.18 186.71,338.12 185.00,336.82 187.14,336.78" fill="#151515"/>
<text x="58.60" y="405.80" font-size="14.5" font-weight="bold" text-anchor="end" >H.I.</text>
<path d="M73.80,399.60H77.60" stroke="#111" stroke-width="2.1"/>
<path d="M97.90,398.70H105.30M101.60,395.00V402.40" stroke="#111" stroke-width="2.2"/>
<path d="M125.40,399.60H129.20" stroke="#111" stroke-width="2.1"/>
<path d="M152.20,399.60H156.00" stroke="#111" stroke-width="2.1"/>
<path d="M178.70,399.60H182.50" stroke="#111" stroke-width="2.1"/>
<text x="58.60" y="432.60" font-size="14.5" font-weight="bold" text-anchor="end" >CVF</text>
<path d="M73.80,426.30H77.60" stroke="#111" stroke-width="2.1"/>
<path d="M99.70,426.30H103.50" stroke="#111" stroke-width="2.1"/>
<path d="M123.60,425.20H131.00M127.30,421.50V428.90" stroke="#111" stroke-width="2.2"/>
<path d="M152.20,426.30H156.00" stroke="#111" stroke-width="2.1"/>
<path d="M178.70,426.30H182.50" stroke="#111" stroke-width="2.1"/>
<text x="58.60" y="457.90" font-size="14.5" font-weight="bold" text-anchor="end" >EDTA</text>
<path d="M73.80,453.00H77.60" stroke="#111" stroke-width="2.1"/>
<path d="M99.70,453.00H103.50" stroke="#111" stroke-width="2.1"/>
<path d="M125.40,453.00H129.20" stroke="#111" stroke-width="2.1"/>
<path d="M150.40,451.70H157.80M154.10,448.00V455.40" stroke="#111" stroke-width="2.2"/>
<path d="M178.70,453.00H182.50" stroke="#111" stroke-width="2.1"/>
<text x="58.60" y="483.20" font-size="14.5" font-weight="bold" text-anchor="end" >IgG</text>
<path d="M73.80,479.40H77.60" stroke="#111" stroke-width="2.1"/>
<path d="M99.70,479.40H103.50" stroke="#111" stroke-width="2.1"/>
<path d="M125.40,479.40H129.20" stroke="#111" stroke-width="2.1"/>
<path d="M152.20,479.40H156.00" stroke="#111" stroke-width="2.1"/>
<path d="M176.90,478.60H184.30M180.60,474.90V482.30" stroke="#111" stroke-width="2.2"/>
<text x="211.20" y="254.80" font-size="28" font-weight="bold" text-anchor="start" >d</text>
<line x1="279.00" y1="240.80" x2="279.00" y2="373.70" stroke="#222" stroke-width="1.4"/>
<line x1="275.00" y1="373.00" x2="279.00" y2="373.00" stroke="#222" stroke-width="1.4"/>
<text x="270.00" y="377.30" font-size="14.5" font-weight="bold" text-anchor="end" >0</text>
<line x1="275.00" y1="340.07" x2="279.00" y2="340.07" stroke="#222" stroke-width="1.4"/>
<text x="270.00" y="345.50" font-size="14.5" font-weight="bold" text-anchor="end" >5</text>
<line x1="275.00" y1="307.15" x2="279.00" y2="307.15" stroke="#222" stroke-width="1.4"/>
<text x="270.00" y="312.60" font-size="14.5" font-weight="bold" text-anchor="end" >10</text>
<line x1="275.00" y1="274.23" x2="279.00" y2="274.23" stroke="#222" stroke-width="1.4"/>
<text x="270.00" y="279.80" font-size="14.5" font-weight="bold" text-anchor="end" >15</text>
<line x1="275.00" y1="241.30" x2="279.00" y2="241.30" stroke="#222" stroke-width="1.4"/>
<text x="270.00" y="249.10" font-size="14.5" font-weight="bold" text-anchor="end" >20</text>
<text x="0" y="0" font-size="14.8" font-weight="bold" text-anchor="middle" transform="translate(244.00,306.30) rotate(-90)">Phlx (au)</text>
<line x1="279.00" y1="373.00" x2="414.70" y2="373.00" stroke="#222" stroke-width="1.6"/>
<line x1="313.30" y1="373.00" x2="313.30" y2="377.20" stroke="#222" stroke-width="1.3"/>
<line x1="381.50" y1="373.00" x2="381.50" y2="377.20" stroke="#222" stroke-width="1.3"/>
<line x1="312.30" y1="236.70" x2="382.00" y2="236.70" stroke="#111" stroke-width="2.7"/>
<polygon points="343.45,225.25 344.16,227.28 346.30,227.32 344.59,228.62 345.21,230.68 343.45,229.45 341.69,230.68 342.31,228.62 340.60,227.32 342.74,227.28" fill="#151515"/>
<polygon points="348.70,225.25 349.41,227.28 351.55,227.32 349.84,228.62 350.46,230.68 348.70,229.45 346.94,230.68 347.56,228.62 345.85,227.32 347.99,227.28" fill="#151515"/>
<polygon points="353.95,225.25 354.66,227.28 356.80,227.32 355.09,228.62 355.71,230.68 353.95,229.45 352.19,230.68 352.81,228.62 351.10,227.32 353.24,227.28" fill="#151515"/>
<circle cx="317.6" cy="247.7" r="2.6" fill="#111"/>
<circle cx="309.4" cy="254.0" r="2.6" fill="#111"/>
<circle cx="301.2" cy="260.9" r="2.6" fill="#111"/>
<circle cx="309.4" cy="267.7" r="2.6" fill="#111"/>
<circle cx="317.6" cy="267.7" r="2.6" fill="#111"/>
<circle cx="325.7" cy="267.7" r="2.6" fill="#111"/>
<circle cx="301.2" cy="274.0" r="2.6" fill="#111"/>
<circle cx="325.7" cy="274.0" r="2.6" fill="#111"/>
<circle cx="309.4" cy="280.9" r="2.6" fill="#111"/>
<circle cx="317.6" cy="280.9" r="2.6" fill="#111"/>
<line x1="290.50" y1="267.70" x2="336.60" y2="267.70" stroke="#111" stroke-width="1.5"/>
<line x1="358.40" y1="327.20" x2="404.90" y2="327.20" stroke="#111" stroke-width="1.5"/>
<polygon points="382.80,283.90 389.00,283.90 385.90,289.30" fill="#111"/>
<polygon points="374.10,291.00 380.30,291.00 377.20,296.40" fill="#111"/>
<rect x="370.60" y="304.60" width="5.20" height="5.20" fill="#111"/>
<rect x="387.30" y="304.60" width="5.20" height="5.20" fill="#111"/>
<rect x="379.10" y="311.30" width="5.20" height="5.20" fill="#111"/>
<path d="M362.50,344.80L367.10,349.40M367.10,344.80L362.50,349.40" stroke="#111" stroke-width="1.8"/>
<polygon points="373.70,351.20 376.70,354.20 373.70,357.20 370.70,354.20" fill="#111"/>
<path d="M379.40,351.50L384.00,356.10M384.00,351.50L379.40,356.10" stroke="#111" stroke-width="1.8"/>
<path d="M387.10,351.50L391.70,356.10M391.70,351.50L387.10,356.10" stroke="#111" stroke-width="1.8"/>
<polygon points="395.00,356.50 401.20,356.50 398.10,351.10" fill="#111"/>
<text x="296.40" y="403.00" font-size="14.5" font-weight="bold" text-anchor="start" >NHD serum</text>
<circle cx="282.6" cy="397.80" r="5.4" fill="#111"/>
<text x="296.40" y="420.30" font-size="14.5" font-weight="bold" text-anchor="start" >C4A def. serum</text>
<rect x="278.20" y="410.20" width="9.80" height="9.80" fill="#111"/>
<text x="296.40" y="437.80" font-size="14.5" font-weight="bold" text-anchor="start" >C4B def. serum</text>
<polygon points="277.20,427.29 289.40,427.29 283.30,437.91" fill="#111"/>
<text x="296.40" y="455.60" font-size="14.5" font-weight="bold" text-anchor="start" >C4 def. serum</text>
<polygon points="277.20,455.71 289.40,455.71 283.30,445.09" fill="#111"/>
<text x="296.40" y="473.50" font-size="14.5" font-weight="bold" text-anchor="start" >C2 def. serum</text>
<path d="M279.40,464.70L286.60,471.90M286.60,464.70L279.40,471.90" stroke="#111" stroke-width="3.6" stroke-linecap="round"/>
<text x="296.40" y="491.40" font-size="14.5" font-weight="bold" text-anchor="start" >C1q def. serum</text>
<polygon points="283.00,480.20 289.00,486.20 283.00,492.20 277.00,486.20" fill="#111"/>
<text x="439.50" y="255.50" font-size="28" font-weight="bold" text-anchor="start" >e</text>
<line x1="514.30" y1="240.50" x2="514.30" y2="372.50" stroke="#222" stroke-width="1.4"/>
<line x1="510.30" y1="371.80" x2="514.30" y2="371.80" stroke="#222" stroke-width="1.4"/>
<text x="504.00" y="376.60" font-size="14.5" font-weight="bold" text-anchor="end" >0</text>
<line x1="510.30" y1="339.10" x2="514.30" y2="339.10" stroke="#222" stroke-width="1.4"/>
<text x="504.00" y="344.30" font-size="14.5" font-weight="bold" text-anchor="end" >10</text>
<line x1="510.30" y1="306.40" x2="514.30" y2="306.40" stroke="#222" stroke-width="1.4"/>
<text x="504.00" y="310.00" font-size="14.5" font-weight="bold" text-anchor="end" >20</text>
<line x1="510.30" y1="273.70" x2="514.30" y2="273.70" stroke="#222" stroke-width="1.4"/>
<text x="504.00" y="279.00" font-size="14.5" font-weight="bold" text-anchor="end" >30</text>
<line x1="510.30" y1="241.00" x2="514.30" y2="241.00" stroke="#222" stroke-width="1.4"/>
<text x="504.00" y="247.90" font-size="14.5" font-weight="bold" text-anchor="end" >40</text>
<text x="0" y="0" font-size="14.8" font-weight="bold" text-anchor="middle" transform="translate(471.80,300.30) rotate(-90)">Phlx (au)</text>
<line x1="514.30" y1="371.80" x2="678.60" y2="371.80" stroke="#222" stroke-width="1.6"/>
<line x1="528.00" y1="319.40" x2="528.00" y2="313.80" stroke="#111" stroke-width="1.6"/>
<line x1="522.75" y1="314.80" x2="533.25" y2="314.80" stroke="#111" stroke-width="2.0"/>
<rect x="519.15" y="320.40" width="17.70" height="51.40" fill="#9e9e9e" stroke="#111" stroke-width="2.0"/>
<line x1="528.00" y1="371.80" x2="528.00" y2="376.20" stroke="#222" stroke-width="1.3"/>
<line x1="555.20" y1="274.40" x2="555.20" y2="267.70" stroke="#111" stroke-width="1.6"/>
<line x1="549.95" y1="268.70" x2="560.45" y2="268.70" stroke="#111" stroke-width="2.0"/>
<rect x="546.35" y="275.40" width="17.70" height="96.40" fill="#9e9e9e" stroke="#111" stroke-width="2.0"/>
<line x1="555.20" y1="371.80" x2="555.20" y2="376.20" stroke="#222" stroke-width="1.3"/>
<line x1="582.40" y1="284.20" x2="582.40" y2="277.90" stroke="#111" stroke-width="1.6"/>
<line x1="577.15" y1="278.90" x2="587.65" y2="278.90" stroke="#111" stroke-width="2.0"/>
<rect x="573.55" y="285.20" width="17.70" height="86.60" fill="#9e9e9e" stroke="#111" stroke-width="2.0"/>
<line x1="582.40" y1="371.80" x2="582.40" y2="376.20" stroke="#222" stroke-width="1.3"/>
<line x1="609.60" y1="357.70" x2="609.60" y2="355.70" stroke="#111" stroke-width="1.6"/>
<line x1="604.35" y1="356.70" x2="614.85" y2="356.70" stroke="#111" stroke-width="2.0"/>
<rect x="600.75" y="358.70" width="17.70" height="13.10" fill="#9e9e9e" stroke="#111" stroke-width="2.0"/>
<line x1="609.60" y1="371.80" x2="609.60" y2="376.20" stroke="#222" stroke-width="1.3"/>
<line x1="631.80" y1="355.00" x2="641.80" y2="355.00" stroke="#111" stroke-width="2.0"/>
<rect x="627.95" y="355.40" width="17.70" height="16.40" fill="#9e9e9e" stroke="#111" stroke-width="2.0"/>
<line x1="636.80" y1="371.80" x2="636.80" y2="376.20" stroke="#222" stroke-width="1.3"/>
<line x1="659.00" y1="352.30" x2="669.00" y2="352.30" stroke="#111" stroke-width="2.0"/>
<rect x="655.15" y="353.60" width="17.70" height="18.20" fill="#9e9e9e" stroke="#111" stroke-width="2.0"/>
<line x1="664.00" y1="371.80" x2="664.00" y2="376.20" stroke="#222" stroke-width="1.3"/>
<line x1="526.10" y1="238.50" x2="583.00" y2="238.50" stroke="#111" stroke-width="2.6"/>
<line x1="526.10" y1="256.00" x2="555.50" y2="256.00" stroke="#111" stroke-width="2.6"/>
<polygon points="549.65,227.95 550.36,229.98 552.50,230.02 550.79,231.32 551.41,233.38 549.65,232.15 547.89,233.38 548.51,231.32 546.80,230.02 548.94,229.98" fill="#151515"/>
<polygon points="554.90,227.95 555.61,229.98 557.75,230.02 556.04,231.32 556.66,233.38 554.90,232.15 553.14,233.38 553.76,231.32 552.05,230.02 554.19,229.98" fill="#151515"/>
<polygon points="560.15,227.95 560.86,229.98 563.00,230.02 561.29,231.32 561.91,233.38 560.15,232.15 558.39,233.38 559.01,231.32 557.30,230.02 559.44,229.98" fill="#151515"/>
<polygon points="536.00,245.45 536.71,247.48 538.85,247.52 537.14,248.82 537.76,250.88 536.00,249.65 534.24,250.88 534.86,248.82 533.15,247.52 535.29,247.48" fill="#151515"/>
<polygon points="541.25,245.45 541.96,247.48 544.10,247.52 542.39,248.82 543.01,250.88 541.25,249.65 539.49,250.88 540.11,248.82 538.40,247.52 540.54,247.48" fill="#151515"/>
<polygon points="546.50,245.45 547.21,247.48 549.35,247.52 547.64,248.82 548.26,250.88 546.50,249.65 544.74,250.88 545.36,248.82 543.65,247.52 545.79,247.48" fill="#151515"/>
<text x="505.30" y="406.80" font-size="14.5" font-weight="bold" text-anchor="end" >Active</text>
<path d="M523.80,401.20H531.20M527.50,397.50V404.90" stroke="#111" stroke-width="2.2"/>
<path d="M551.10,401.20H558.50M554.80,397.50V404.90" stroke="#111" stroke-width="2.2"/>
<path d="M578.30,401.20H585.70M582.00,397.50V404.90" stroke="#111" stroke-width="2.2"/>
<path d="M608.60,402.00H612.40" stroke="#111" stroke-width="2.1"/>
<path d="M636.80,402.00H640.60" stroke="#111" stroke-width="2.1"/>
<path d="M663.20,402.00H667.00" stroke="#111" stroke-width="2.1"/>
<text x="505.30" y="432.90" font-size="14.5" font-weight="bold" text-anchor="end" >H.I.</text>
<path d="M525.60,428.90H529.40" stroke="#111" stroke-width="2.1"/>
<path d="M552.90,428.90H556.70" stroke="#111" stroke-width="2.1"/>
<path d="M580.10,428.90H583.90" stroke="#111" stroke-width="2.1"/>
<path d="M606.80,428.10H614.20M610.50,424.40V431.80" stroke="#111" stroke-width="2.2"/>
<path d="M635.00,428.10H642.40M638.70,424.40V431.80" stroke="#111" stroke-width="2.2"/>
<path d="M661.40,428.10H668.80M665.10,424.40V431.80" stroke="#111" stroke-width="2.2"/>
<text x="505.30" y="459.40" font-size="14.5" font-weight="bold" text-anchor="end" >A-Fet</text>
<path d="M525.60,455.10H529.40" stroke="#111" stroke-width="2.1"/>
<path d="M552.90,455.10H556.70" stroke="#111" stroke-width="2.1"/>
<path d="M578.30,454.70H585.70M582.00,451.00V458.40" stroke="#111" stroke-width="2.2"/>
<path d="M608.60,455.10H612.40" stroke="#111" stroke-width="2.1"/>
<path d="M636.80,455.10H640.60" stroke="#111" stroke-width="2.1"/>
<path d="M661.40,454.70H668.80M665.10,451.00V458.40" stroke="#111" stroke-width="2.2"/>
<text x="505.30" y="486.60" font-size="14.5" font-weight="bold" text-anchor="end" >Fet</text>
<path d="M525.60,482.40H529.40" stroke="#111" stroke-width="2.1"/>
<path d="M551.10,481.70H558.50M554.80,478.00V485.40" stroke="#111" stroke-width="2.2"/>
<path d="M580.10,482.40H583.90" stroke="#111" stroke-width="2.1"/>
<path d="M608.60,482.40H612.40" stroke="#111" stroke-width="2.1"/>
<path d="M635.00,481.70H642.40M638.70,478.00V485.40" stroke="#111" stroke-width="2.2"/>
<path d="M663.20,482.40H667.00" stroke="#111" stroke-width="2.1"/>
</svg></body></html>
